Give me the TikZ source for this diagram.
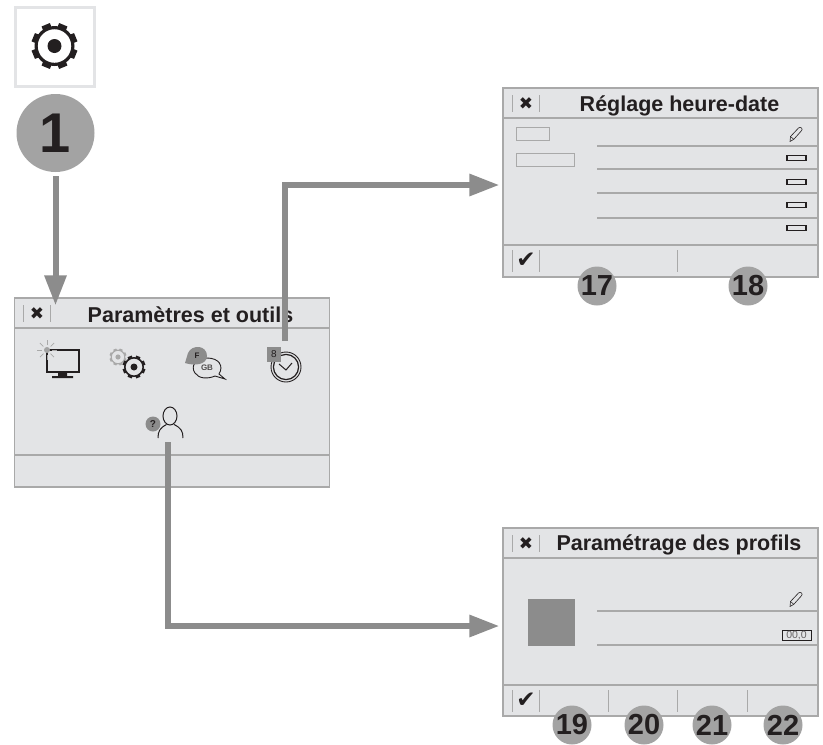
\documentclass[tikz,border=0pt]{standalone}
\usepackage{xcolor}
\usepackage{fontspec}
\setmainfont{Liberation Sans}
\newfontfamily\symbolfont{DejaVu Sans}
\usetikzlibrary{arrows.meta, positioning}

\definecolor{panelgrey}{HTML}{E3E4E6}
\definecolor{edgegrey}{HTML}{A9A9A9}
\definecolor{flowgrey}{HTML}{8C8C8C}
\definecolor{badgegrey}{HTML}{A3A3A3}
\definecolor{inkblack}{HTML}{231F20}

\begin{document}
\begin{tikzpicture}[
    x=1pt, y=-1pt,
    panel/.style={rectangle, draw=edgegrey, fill=panelgrey, line width=1.2pt, minimum width=315pt, inner sep=0pt},
    rule/.style={edgegrey, line width=1.1pt},
    titletext/.style={font=\bfseries\fontsize{21.5}{24}\selectfont, text=inkblack, inner sep=0pt},
    winmark/.style={font=\symbolfont\fontsize{17}{19}\selectfont, text=inkblack, inner sep=0pt},
    tickmark/.style={font=\symbolfont\fontsize{23}{25}\selectfont, text=inkblack, inner sep=0pt},
    badge/.style={circle, fill=badgegrey, minimum size=39pt, inner sep=0pt, text=inkblack, font=\bfseries\fontsize{29}{31}\selectfont},
    field/.style={rectangle, draw=edgegrey, line width=0.8pt, inner sep=0pt},
    dashbox/.style={rectangle, draw=inkblack, fill=panelgrey, line width=1.1pt, minimum width=19pt, minimum height=5pt, inner sep=0pt},
    arrow/.style={-{Triangle[length=30pt, width=21pt]}, flowgrey, line width=6pt},
    gearicon/.pic={
        \foreach \a in {22.5, 67.5, ..., 337.5}
            \fill[pic actions] (\a:18) ++(\a+90:4.5) -- ++(\a:5) -- ++(\a-90:9) -- ++(\a:-5) -- cycle;
        \fill[pic actions, even odd rule] (0,0) circle (20) circle (16.8);
        \fill[pic actions] (0,0) circle (7);
    },
    pencilicon/.pic={
        \draw[inkblack, line width=0.6pt, line join=round] (-6,7) -- (-5.5,2) -- (2.5,-6.5) .. controls (4.5,-8.5) and (7.5,-5.5) .. (5.5,-3.8) -- (-2.2,4.8) -- cycle;
        \draw[inkblack, line width=0.5pt] (-5.5,2) -- (-2.2,4.8);
    },
]
    \useasboundingbox (0,0) rectangle (823,745);

    % windows
    \node[panel, minimum height=189pt] (paramwin) at (172,392.5) {};
    \node[panel, minimum height=189pt] (reglagewin) at (660.5,182.5) {};
    \node[panel, minimum height=188pt] (profilwin) at (660.5,622) {};

    % icon and first step
    \node[rectangle, draw=panelgrey, line width=2.2pt, fill=white, minimum size=79pt] (gearbox) at (55,47) {};
    \pic[fill=inkblack] at (54.5,46) {gearicon};
    \node[badge, minimum size=78pt, font=\bfseries\fontsize{56}{58}\selectfont] (stepone) at (55.5,133) {1};

    % main window
    \draw[rule] (14.5,328) -- (329,328);
    \draw[rule] (14.5,455) -- (329,455);
    \draw[edgegrey, line width=0.8pt] (23,305) -- (23,322) (50,305) -- (50,322);
    \node[winmark] (closea) at (37,314) {✖};
    \node[titletext] (paramtitle) at (190.5,315) {Paramètres et outils};

    % screen icon
    \draw[inkblack, line width=1.8pt] (47,350) rectangle (79,372);
    \fill[inkblack] (58,372) rectangle (67,376) (52,376) rectangle (73,378);
    \foreach \a in {0, 45, ..., 315}
        \draw[edgegrey, line width=0.7pt] (47,350) ++(\a:5) -- ++(\a:5);
    \fill[badgegrey] (47,350) circle (3);

    % gears icon
    \pic[fill=edgegrey] at (118,357) [scale=0.37] {gearicon};
    \pic[fill=inkblack] at (134,367) [scale=0.5] {gearicon};

    % language icon
    \draw[inkblack, fill=panelgrey, line width=0.9pt] (195,373) .. controls (190,366) and (196,358) .. (207,358) .. controls (219,358) and (224,366) .. (219,374) -- (225,379) -- (215,376) .. controls (208,379) and (199,379) .. (195,373) -- cycle;
    \fill[flowgrey] (185,363) -- (188,353) .. controls (192,344) and (207,345) .. (207,356) .. controls (207,365) and (194,366) .. cycle;
    \node[font=\bfseries\fontsize{8}{9}\selectfont, text=inkblack, inner sep=0pt] (flang) at (197,356) {F};
    \node[font=\bfseries\fontsize{8}{9}\selectfont, text=inkblack!80, inner sep=0pt] (gblang) at (207,368) {GB};

    % clock icon
    \node[circle, draw=inkblack, line width=0.9pt, minimum size=30pt, inner sep=0pt] (clockicon) at (286,367) {};
    \draw[inkblack, line width=1.2pt] (286,367) circle (12.6);
    \draw[inkblack, line width=1pt] (279,364) -- (286,370) -- (292,363);
    \node[rectangle, fill=flowgrey, minimum width=14pt, minimum height=15pt, inner sep=0pt, text=inkblack, font=\fontsize{10}{11}\selectfont] (clockbadge) at (274,354.5) {8};

    % profile icon
    \draw[inkblack, line width=1pt] (170,416) ellipse (7 and 9);
    \draw[inkblack, line width=1pt] (158,438) .. controls (158,431) and (160,428) .. (166.5,424.5);
    \draw[inkblack, line width=1pt] (183,438) .. controls (183,431) and (181,428) .. (174,424.5);
    \node[circle, fill=flowgrey, minimum size=15pt, inner sep=0pt, text=inkblack, font=\bfseries\fontsize{10}{11}\selectfont] (helpicon) at (153,424) {?};

    % date window
    \draw[rule] (503,118) -- (818,118);
    \draw[rule] (503,245) -- (818,245);
    \draw[edgegrey, line width=0.8pt] (512,95) -- (512,112) (539,95) -- (539,112);
    \draw[edgegrey, line width=0.8pt] (512,250) -- (512,272) (539,250) -- (539,272) (677,250) -- (677,272);
    \node[winmark] (closeb) at (526,104) {✖};
    \node[tickmark] (checkb) at (526,260) {✔};
    \node[titletext] (reglagetitle) at (679.5,105.5) {Réglage heure-date};
    \node[field, minimum width=33pt, minimum height=13pt] (hourfield) at (532.5,133.5) {};
    \node[field, minimum width=58pt, minimum height=13pt] (datefield) at (545,159.5) {};
    \foreach \y in {146, 169, 193, 218}
        \draw[rule] (597,\y) -- (818,\y);
    \foreach \y in {158, 182, 205, 228}
        \node[dashbox] at (796.5,\y) {};
    \pic at (796,134.5) {pencilicon};
    \node[badge] (stepseventeen) at (597,286) {17};
    \node[badge] (stepeighteen) at (748,286) {18};

    % profile window
    \draw[rule] (503,558) -- (818,558);
    \draw[rule] (503,685) -- (818,685);
    \draw[edgegrey, line width=0.8pt] (512,535) -- (512,552) (539,535) -- (539,552);
    \foreach \x in {512, 539, 608, 677, 747}
        \draw[edgegrey, line width=0.8pt] (\x,690) -- (\x,712);
    \node[winmark] (closec) at (526,544) {✖};
    \node[tickmark] (checkc) at (526,700) {✔};
    \node[titletext] (profiltitle) at (679,544.5) {Paramétrage des profils};
    \node[rectangle, fill=flowgrey, minimum size=47pt, inner sep=0pt] (photo) at (551.5,622.5) {};
    \draw[rule] (597,611) -- (818,611);
    \draw[rule] (597,645) -- (818,645);
    \pic at (796,599.5) {pencilicon};
    \node[rectangle, draw=inkblack, line width=0.8pt, minimum width=29pt, minimum height=10pt, inner sep=0pt, text=inkblack!70, font=\fontsize{10.5}{11}\selectfont] (weightbox) at (796.5,635) {00,0};
    \node[badge] (stepnineteen) at (572,725) {19};
    \node[badge] (steptwenty) at (644,725) {20};
    \node[badge] (steptwentyone) at (712,725) {21};
    \node[badge] (steptwentytwo) at (783,725) {22};

    % connectors
    \coordinate (clockout) at (285,341);
    \coordinate (helpout) at (168,442);
    \draw[arrow, shorten <=4pt, shorten >=-8pt] (stepone) -- (stepone |- paramwin.north);
    \draw[arrow, shorten >=3pt] (clockout) |- ([yshift=-2.5pt]reglagewin.west);
    \draw[arrow, shorten >=3pt] (helpout) |- ([yshift=-4pt]profilwin.west);
\end{tikzpicture}
\end{document}
